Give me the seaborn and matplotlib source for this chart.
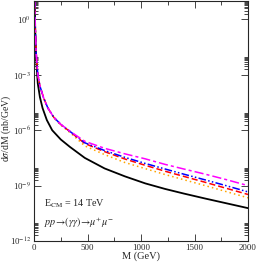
import numpy as np
import pandas as pd
import matplotlib
matplotlib.use("Agg")
import matplotlib.pyplot as plt
import matplotlib.ticker as mticker
import seaborn as sns

# invariant mass (GeV) and log10 of d(sigma)/dM (nb/GeV)
m_black = [3, 7, 12, 20, 35, 55, 80, 120, 170, 250, 335, 475, 660, 850, 1040, 1225, 1400, 1600, 1800, 2000]
lg_black = [1.5, 0.9, -0.7, -2.1, -3.45, -4.2, -4.8, -5.45, -6.0, -6.5, -6.9, -7.5, -8.07, -8.5, -8.88, -9.18, -9.43, -9.7, -9.96, -10.22]

m_col = [3, 7, 12, 20, 35, 55, 90, 130, 185, 250, 335, 475, 660, 850, 1040, 1225, 1400, 1600, 1800, 2000]
lg_magenta = [1.6, 1.0, -0.5, -1.8, -2.95, -3.6, -4.25, -4.8, -5.3, -5.68, -6.05, -6.6, -6.98, -7.28, -7.55, -7.85, -8.1, -8.38, -8.68, -9.0]
lg_blue = [1.6, 1.0, -0.5, -1.8, -2.95, -3.6, -4.25, -4.8, -5.3, -5.68, -6.06, -6.68, -7.1, -7.47, -7.8, -8.1, -8.38, -8.69, -9.01, -9.34]
lg_red = [1.6, 1.0, -0.5, -1.8, -2.95, -3.6, -4.25, -4.8, -5.3, -5.69, -6.07, -6.72, -7.16, -7.56, -7.9, -8.22, -8.5, -8.82, -9.15, -9.48]
lg_orange = [1.6, 1.0, -0.5, -1.8, -2.95, -3.6, -4.25, -4.81, -5.32, -5.72, -6.12, -6.85, -7.32, -7.75, -8.08, -8.4, -8.68, -9.0, -9.33, -9.66]

series = [
    ("black", m_black, lg_black, "black", (None, None), 1.3),
    ("orange", m_col, lg_orange, "#ffa500", (1, 2), 1.1),
    ("red", m_col, lg_red, "#ff0000", (4, 2), 1.1),
    ("blue", m_col, lg_blue, "#0000ff", (5, 1.5, 1, 1.5, 1, 1.5), 1.1),
    ("magenta", m_col, lg_magenta, "#ff00ff", (6, 2, 2, 2), 1.1),
]

sns.set_style("ticks")
plt.rcParams['font.family'] = ['Liberation Serif', 'DejaVu Serif']
plt.rcParams['mathtext.fontset'] = 'stix'
plt.rcParams['font.size'] = 7.5

fig = plt.figure(figsize=(2.58, 2.62), dpi=100)
ax = fig.add_axes([34 / 258, 21 / 262, 214 / 258, 240 / 262])

for name, m, lg, col, dash, lw in series:
    df = pd.DataFrame({"M": m, "y": 10.0 ** np.array(lg)})
    sns.lineplot(data=df, x="M", y="y", ax=ax, color=col, lw=lw)
    if dash[0] is not None:
        ax.lines[-1].set_dashes(dash)

ax.set_yscale("log")
ax.set_xlim(0, 2000)
ax.set_ylim(1e-12, 1e1)

ax.xaxis.set_major_locator(mticker.MultipleLocator(500))
ax.xaxis.set_minor_locator(mticker.MultipleLocator(250))
ax.yaxis.set_major_locator(mticker.FixedLocator([1e-12, 1e-9, 1e-6, 1e-3, 1e0]))
minors = [k * 10.0 ** e for e in (-12, -9, -6, -3, 0) for k in range(2, 10)]
ax.yaxis.set_minor_locator(mticker.FixedLocator(minors))
ax.yaxis.set_major_formatter(mticker.FuncFormatter(lambda v, p: r"10$^{%d}$" % round(np.log10(v))))
ax.yaxis.set_minor_formatter(mticker.NullFormatter())

ax.tick_params(which="both", direction="in", top=True, right=True, width=0.6, labelsize=6.3, pad=2)
ax.tick_params(which="major", length=5)
ax.tick_params(which="minor", length=3)
for s in ax.spines.values():
    s.set_linewidth(0.8)

ax.set_xlabel("M (GeV)", fontsize=7.5, labelpad=0)
ax.set_ylabel(r"d$\sigma$/dM (nb/GeV)", fontsize=7)
ax.yaxis.set_label_coords(-0.1, 0.47)

ax.text(0.045, 0.154, r"E$_{\rm CM}$ = 14 TeV", transform=ax.transAxes, fontsize=7.3, va="center")
ax.text(0.045, 0.075, r"$pp\!\rightarrow\!(\gamma\gamma)\!\rightarrow\!\mu^{+}\mu^{-}$",
        transform=ax.transAxes, fontsize=7.3, va="center")

fig.savefig("out.png", dpi=100)
